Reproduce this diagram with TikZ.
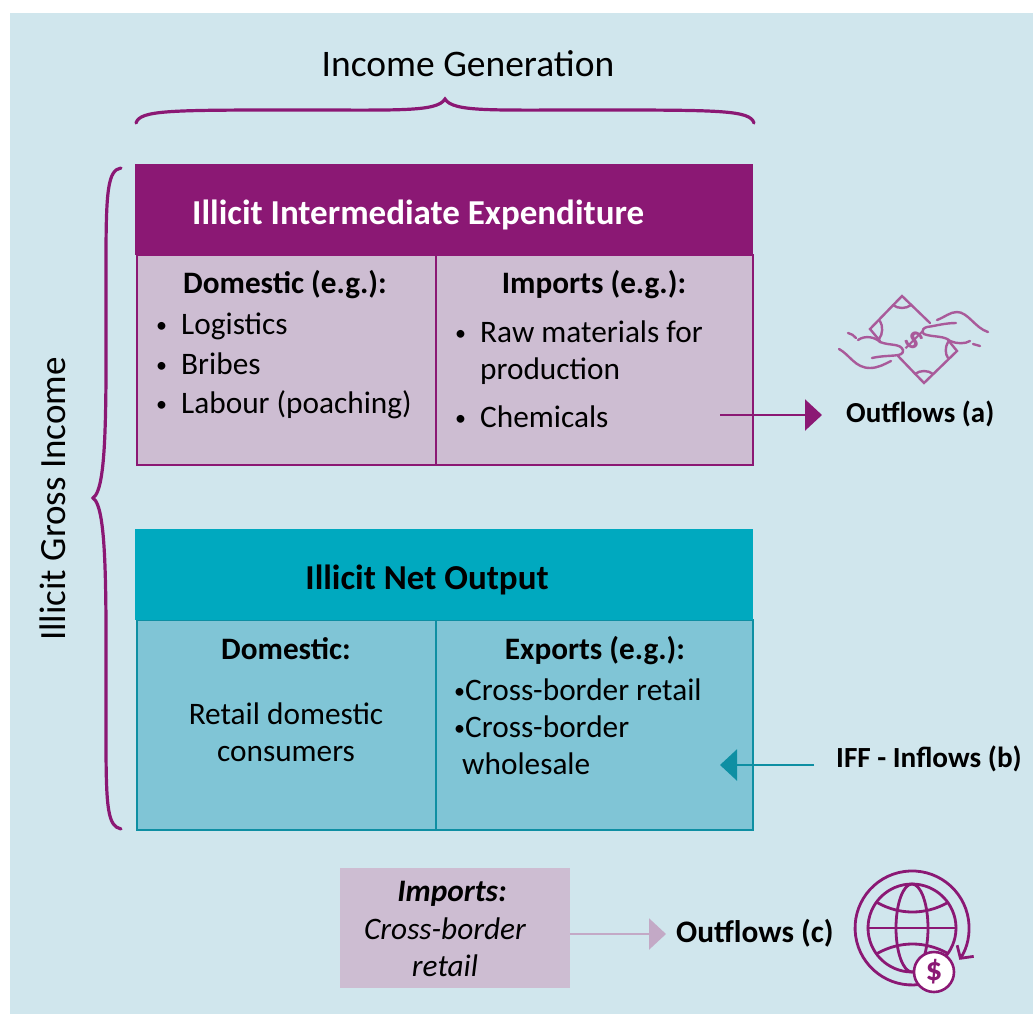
\documentclass[tikz,border=0pt]{standalone}
\usepackage{fontspec}
\setmainfont{Carlito}
\usetikzlibrary{arrows.meta}
\definecolor{bgblue}{HTML}{D0E6ED}
\definecolor{plum}{HTML}{8B1874}
\definecolor{softplum}{HTML}{A95A9A}
\definecolor{lightplum}{HTML}{CDBDD2}
\definecolor{midplum}{HTML}{C3A9C6}
\definecolor{teal}{HTML}{00A9BF}
\definecolor{lightteal}{HTML}{80C5D6}
\definecolor{darkteal}{HTML}{0E8FA3}
\newcommand{\bul}{\raisebox{2pt}{\fontsize{22}{22}\selectfont•}}
\tikzset{
	cell/.style={draw,line width=2.2pt,minimum height=210pt,anchor=north west,inner sep=0pt},
	head/.style={minimum width=618pt,minimum height=91pt,anchor=north west,inner sep=0pt},
	body/.style={font=\fontsize{31.3}{31.3}\selectfont,anchor=base west,inner sep=0pt},
	bodyc/.style={font=\fontsize{31.3}{31.3}\selectfont,anchor=base,inner sep=0pt},
	bold/.style={font=\fontsize{31.2}{31.2}\selectfont\bfseries,anchor=base,inner sep=0pt},
	flowbold/.style={inner sep=0pt,anchor=base west},
	flowarrow/.style={line width=2.3pt,-{Triangle[length=17pt,width=31pt]}},
	icon/.style={softplum,line width=2.4pt,line cap=round},
	globe/.style={plum,line width=2.8pt,line cap=round},
	bracket/.style={plum,line width=3.2pt,line cap=round}
}
\begin{document}
\begin{tikzpicture}[x=1pt,y=-1pt]
	\useasboundingbox(0,0)rectangle(1033,1014);
	\fill[bgblue](10,13)rectangle(1033,1014);
	% braces
	\node[font=\fontsize{37.5}{37.5}\selectfont,anchor=base,inner sep=0pt](income)at(468,77){Income Generation};
	\draw[bracket](136,123)..controls(140,110)and(170,110)..(300,110)..controls(400,110)and(437,112)..(445,99)..controls(453,112)and(490,110)..(590,110)..controls(720,110)and(750,110)..(754,123);
	\node[font=\fontsize{37}{37}\selectfont,anchor=base,rotate=90,inner sep=0pt](gross)at(65,499){Illicit Gross Income};
	\draw[bracket](121,168)..controls(108,170)and(106,190)..(106,260)..controls(106,400)and(108,488)..(93,498)..controls(108,508)and(106,600)..(106,740)..controls(106,810)and(108,826)..(121,829);
	% upper block
	\node[cell,draw=plum,fill=lightplum,minimum width=300pt](ieDom)at(136,254){};
	\node[cell,draw=plum,fill=lightplum,minimum width=317pt](ieImp)at(435,254){};
	\node[head,fill=plum](ieHead)at(135,164){};
	\node[anchor=base west,inner sep=0pt,text=white,font=\fontsize{35}{35}\selectfont\bfseries](ieTitle)at(192,224){Illicit Intermediate Expenditure};
	\node[bold](domT)at(285,293){Domestic (e.g.):};
	\node[bold](impT)at(594,293){Imports (e.g.):};
	\foreach \x/\y/\t [count=\i] in {156/334/\bul,181/334/Logistics,156/374/\bul,181/374/Bribes,156/413/\bul,181/413/Labour (poaching),455/342/\bul,480/342/Raw materials for,480/379/production,455/427/\bul,480/427/Chemicals}
		{\node[body](upper\i)at(\x,\y){\t};}
	% lower block
	\node[cell,draw=darkteal,fill=lightteal,minimum width=300pt](noDom)at(136,619){};
	\node[cell,draw=darkteal,fill=lightteal,minimum width=317pt](noExp)at(435,619){};
	\node[head,fill=teal](noHead)at(135,529){};
	\node[anchor=base,inner sep=0pt,font=\fontsize{35}{35}\selectfont\bfseries](noTitle)at(427,589){Illicit Net Output};
	\node[bold](domN)at(286,659){Domestic:};
	\node[bold](expN)at(595,659){Exports (e.g.):};
	\node[bodyc](retailA)at(286,724){Retail domestic};
	\node[bodyc](retailB)at(286,761){consumers};
	\foreach \x/\y/\t [count=\i] in {454/700/\bul Cross-border retail,454/737/\bul Cross-border,462/774/wholesale}
		{\node[body](lower\i)at(\x,\y){\t};}
	% imports box
	\node[fill=lightplum,minimum width=230pt,minimum height=120pt,anchor=north west,inner sep=0pt](cbBox)at(340,868){};
	\node[bold,font=\fontsize{31.3}{31.3}\selectfont\bfseries\itshape](cbA)at(452,901){Imports:};
	\node[bodyc,font=\fontsize{31.3}{31.3}\selectfont\itshape](cbB)at(445,939){Cross-border};
	\node[bodyc,font=\fontsize{31.3}{31.3}\selectfont\itshape](cbC)at(445,976){retail};
	% flows
	\node[flowbold,font=\fontsize{29}{29}\selectfont\bfseries](outA)at(846,422){Outflows (a)};
	\node[flowbold,font=\fontsize{29.2}{29.2}\selectfont\bfseries](inB)at(836,767){IFF - Inflows (b)};
	\node[flowbold,font=\fontsize{31.3}{31.3}\selectfont\bfseries](outC)at(676,942){Outflows (c)};
	\coordinate(startA)at(720,415);
	\coordinate(endB)at(720,765);
	\draw[flowarrow,plum](startA)--(822,415);
	\draw[flowarrow,darkteal](inB.west|-endB)++(-22,0)--(endB);
	\draw[flowarrow,midplum](cbBox.east|-0,934)--(666,934);
	% hands icon
	\draw[icon](930,323)--(902,296)--(870,329)--(880,341)(898,356)--(924,383)--(957,351)--(948,340);
	\draw[icon](893,305)..controls(898,309)and(906,309)..(911,305)(880,321)..controls(883,326)and(883,334)..(879,339);
	\draw[icon](915,374)..controls(920,370)and(928,370)..(933,374)(948,342)..controls(945,347)and(945,354)..(948,358);
	\node[softplum,rotate=-40,inner sep=0pt,font=\fontsize{32}{32}\selectfont\bfseries](dollarA)at(914,340){\$};
	\draw[icon](839,349)..controls(850,355)and(855,368)..(870,368)..controls(878,368)and(885,364)..(891,361);
	\draw[icon](858,340)..controls(865,335)and(875,337)..(880,342)..controls(890,346)and(900,343)..(903,350)..controls(904,358)and(890,354)..(872,358);
	\draw[icon](848,333)..controls(851,334)and(854,335)..(856,338);
	\draw[icon](988,332)..controls(975,328)and(968,312)..(957,312)..controls(950,312)and(945,317)..(937,320);
	\draw[icon](956,323)..controls(945,323)and(935,326)..(927,327)..controls(920,329)and(922,335)..(927,335)..controls(935,337)and(945,336)..(950,341)..controls(957,344)and(965,344)..(970,341);
	\draw[icon](973,344)--(980,346);
	% globe icon
	\draw[globe](912,928)circle(44);
	\draw[globe](912,928)ellipse(16 and 44);
	\draw[globe](868,928)--(956,928);
	\draw[globe](878,903)..controls(900,915)and(925,915)..(947,903);
	\draw[globe](878,953)..controls(900,941)and(925,941)..(947,953);
	\draw[globe,-{Straight Barb[length=9pt,width=20pt]}](920,984.4)arc(82:394:57);
	\node[circle,draw=plum,line width=2.6pt,fill=white,minimum size=40pt,inner sep=0pt,text=plum,font=\fontsize{33}{33}\selectfont\bfseries](dollarC)at(934,972){\$};
\end{tikzpicture}
\end{document}
